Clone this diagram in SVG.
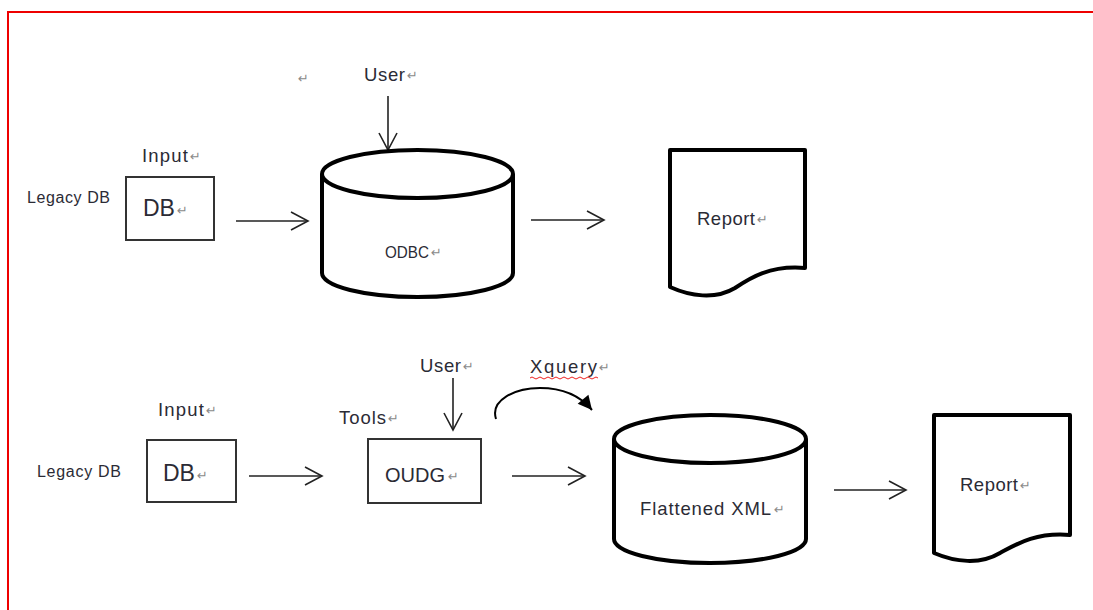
<svg xmlns="http://www.w3.org/2000/svg" width="1093" height="610" viewBox="0 0 1093 610">
<style>
.t{font-family:"Liberation Sans",Arial,sans-serif;fill:#2b2b35;font-size:18.5px;}
.big{font-size:23px;}
.mid{font-size:20px;}
.sm{font-size:16.5px;}
.lg{font-size:16px;}
.r{font-family:"DejaVu Sans",sans-serif;fill:#8a8a8a;font-size:13px;}
.thick{fill:#fff;stroke:#000;stroke-width:4;stroke-linejoin:round;}
.box{fill:#fff;stroke:#333;stroke-width:2;}
.con{fill:none;stroke:#222;stroke-width:1.6;}
</style>
<defs>
<marker id="open" markerUnits="userSpaceOnUse" markerWidth="20" markerHeight="20" refX="17" refY="9" orient="auto" overflow="visible">
<path d="M0,0 L17,9 L0,18" fill="none" stroke="#222" stroke-width="1.6"/>
</marker>
<marker id="solid" markerUnits="userSpaceOnUse" markerWidth="20" markerHeight="20" refX="14" refY="7" orient="auto" overflow="visible">
<path d="M0,0 L14,7 L0,14 Z" fill="#000"/>
</marker>
</defs>
<rect width="1093" height="610" fill="#fff"/>
<path d="M8,610 V12 H1093" fill="none" stroke="#e00" stroke-width="2"/>

<g id="connectors">
<line class="con" x1="388" y1="96" x2="388" y2="150" marker-end="url(#open)"/>
<line class="con" x1="236" y1="221" x2="308" y2="221" marker-end="url(#open)"/>
<line class="con" x1="531" y1="220" x2="604" y2="220" marker-end="url(#open)"/>
<line class="con" x1="453" y1="378" x2="453" y2="430" marker-end="url(#open)"/>
<line class="con" x1="249" y1="476" x2="322" y2="476" marker-end="url(#open)"/>
<line class="con" x1="512" y1="476" x2="585" y2="476" marker-end="url(#open)"/>
<line class="con" x1="834" y1="490" x2="906" y2="490" marker-end="url(#open)"/>
<path d="M496,419 C490,400 515,388 540,388 C565,388 582,398 592,410" fill="none" stroke="#000" stroke-width="2" marker-end="url(#solid)"/>
</g>

<g id="labels-top">
<text class="r" x="298" y="83">↵</text>
<text class="t" x="364" y="81" textLength="41" lengthAdjust="spacing">User</text><text class="r" x="407" y="80">↵</text>
<text class="t" x="142" y="162" textLength="46" lengthAdjust="spacing">Input</text><text class="r" x="190" y="161">↵</text>
<text class="t lg" x="27" y="203" textLength="83" lengthAdjust="spacing">Legacy DB</text>
</g>

<g id="db1">
<rect class="box" x="126" y="177" width="88" height="63"/>
<text class="t big" x="143" y="216">DB</text><text class="r" x="177" y="215">↵</text>
</g>

<g id="odbc">
<path class="thick" d="M322,174 V273 A95.5,24 0 0 0 513,273 V174"/>
<ellipse class="thick" cx="417.5" cy="174" rx="95.5" ry="24"/>
<text class="t sm" x="385" y="258" textLength="44" lengthAdjust="spacingAndGlyphs">ODBC</text><text class="r" x="431" y="257">↵</text>
</g>

<g id="report1">
<path class="thick" d="M670,150 H805 V268 C770,265 750,278 735,288 C715,300 690,296 670,287 Z"/>
<text class="t" x="697" y="225" textLength="58" lengthAdjust="spacing">Report</text><text class="r" x="757" y="224">↵</text>
</g>

<g id="labels-bottom">
<text class="t" x="420" y="372" textLength="41" lengthAdjust="spacing">User</text><text class="r" x="463" y="371">↵</text>
<text class="t" x="530" y="373" textLength="67" lengthAdjust="spacing">Xquery</text><text class="r" x="599" y="372">↵</text>
<path d="M530,378 q2,-2 4,0 t4,0 t4,0 t4,0 t4,0 t4,0 t4,0 t4,0 t4,0 t4,0 t4,0 t4,0 t4,0 t4,0 t4,0 t4,0 t4,0" fill="none" stroke="#e22" stroke-width="1"/>
<text class="t" x="339" y="424" textLength="47" lengthAdjust="spacing">Tools</text><text class="r" x="388" y="423">↵</text>
<text class="t" x="158" y="416" textLength="46" lengthAdjust="spacing">Input</text><text class="r" x="206" y="415">↵</text>
<text class="t lg" x="37" y="477" textLength="84" lengthAdjust="spacing">Legacy DB</text>
</g>

<g id="db2">
<rect class="box" x="147" y="440" width="89" height="62"/>
<text class="t big" x="163" y="481">DB</text><text class="r" x="197" y="480">↵</text>
</g>

<g id="oudg">
<rect class="box" x="368" y="439" width="113" height="64"/>
<text class="t mid" x="385" y="482">OUDG</text><text class="r" x="448" y="481">↵</text>
</g>

<g id="flatxml">
<path class="thick" d="M614,439 V539 A96,24 0 0 0 806,539 V439"/>
<ellipse class="thick" cx="710" cy="439" rx="96" ry="24"/>
<text class="t" x="640" y="515" textLength="131" lengthAdjust="spacing">Flattened XML</text><text class="r" x="774" y="514">↵</text>
</g>

<g id="report2">
<path class="thick" d="M934,415 H1070 V535 C1035,532 1015,545 1000,553 C980,565 955,562 934,553 Z"/>
<text class="t" x="960" y="491" textLength="58" lengthAdjust="spacing">Report</text><text class="r" x="1020" y="490">↵</text>
</g>
</svg>
